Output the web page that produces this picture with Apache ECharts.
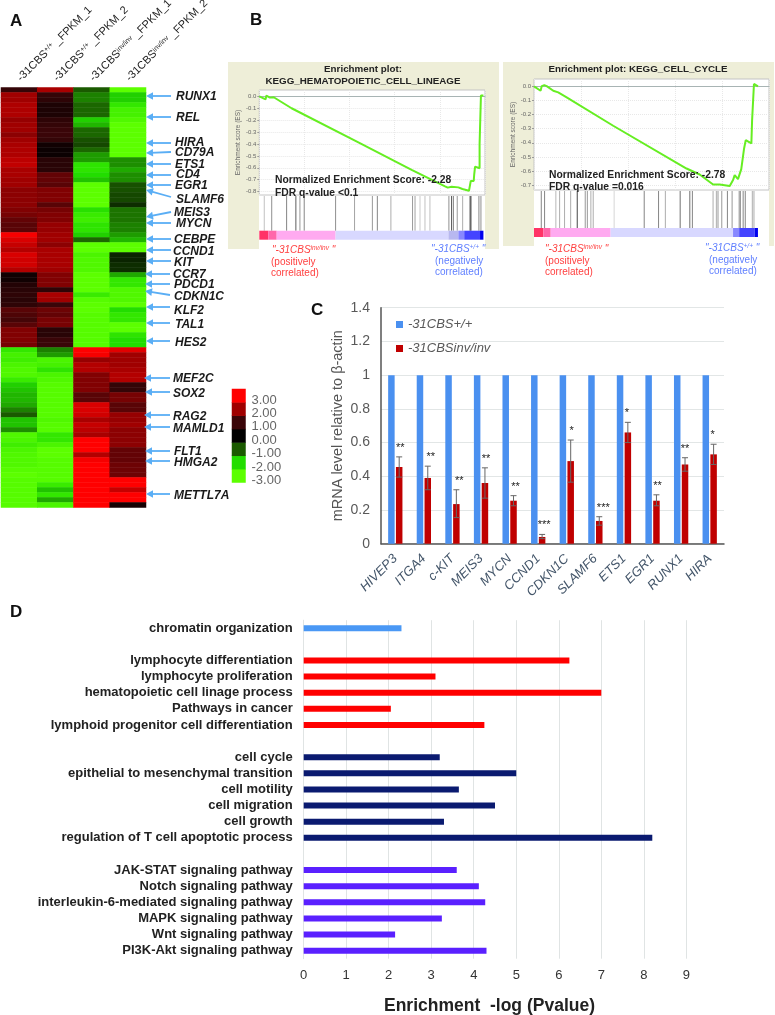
<!DOCTYPE html>
<html>
<head>
<meta charset="utf-8">
<style>html,body{margin:0;padding:0;background:#fff}#chart{width:775px;height:1015px}</style>
<script src="https://cdn.jsdelivr.net/npm/echarts@6/dist/echarts.min.js"></script>
</head>
<body>
<div id="chart"></div>
<script>
// A: expression heatmap, one list per sample, rows top to bottom
const heatSamples = ['-31CBS+/+ _FPKM_1', '-31CBS+/+ _FPKM_2', '-31CBSinv/inv _FPKM_1', '-31CBSinv/inv _FPKM_2'];
const heatCol1 = [
  0.9, 2.0, 2.0, 2.15, 2.15, 2.15, 1.9, 2.0, 2.0, 1.8,
  2.0, 2.1, 2.15, 2.15, 2.3, 2.35, 2.1, 2.1, 2.0, 2.0,
  1.8, 1.8, 1.8, 1.8, 1.7, 1.6, 1.4, 1.3, 1.3, 2.9,
  2.6, 2.4, 2.2, 2.6, 2.5, 2.5, 2.2, 0.3, 0.3, 0.6,
  0.7, 0.8, 0.7, 0.8, 1.3, 1.2, 1.1, 1.3, 1.7, 1.7,
  1.7, 1.6,
  -2.3, -2.6, -2.5, -2.7, -2.8, -2.8, -2.4, -1.9, -1.8, -1.7,
  -1.7, -1.6, -1.3, -1.0, -1.8, -1.8, -1.4, -2.8, -2.7, -2.5,
  -2.7, -2.8, -2.8, -2.8, -2.9, -3.0, -2.9, -2.9, -2.9, -2.9,
  -2.9, -2.9];
const heatCol2 = [
  2.1, 0.9, 0.8, 0.5, 0.5, 0.5, 0.8, 0.9, 1.0, 1.0,
  0.9, 0.3, 0.2, 0.2, 0.7, 0.7, 0.7, 1.4, 1.4, 1.3,
  1.7, 1.7, 1.7, 1.3, 1.6, 1.7, 1.7, 1.9, 1.9, 2.0,
  2.0, 1.8, 2.1, 2.1, 2.1, 2.1, 2.0, 1.7, 1.7, 1.7,
  0.8, 2.1, 2.0, 1.0, 1.5, 1.4, 1.6, 1.6, 0.7, 0.7,
  1.0, 1.0,
  -1.3, -1.5, -2.7, -2.6, -2.2, -2.7, -2.8, -2.9, -2.9, -2.9,
  -2.9, -2.9, -2.9, -2.9, -2.8, -2.9, -2.9, -2.3, -2.3, -2.7,
  -3.0, -3.0, -2.9, -2.9, -2.9, -2.9, -2.9, -2.4, -1.8, -2.3,
  -1.6, -2.7];
const heatCol3 = [
  -1.0, -1.3, -1.3, -1.1, -1.1, -1.1, -1.9, -1.7, -1.1, -1.1,
  -0.9, -0.8, -1.1, -1.5, -1.5, -2.2, -2.2, -2.0, -1.8, -3.0,
  -3.0, -3.0, -3.0, -3.0, -2.1, -2.4, -2.5, -2.2, -2.2, -1.9,
  -1.1, -3.0, -3.0, -2.7, -2.8, -2.8, -2.8, -3.0, -3.0, -3.0,
  -3.0, -2.4, -2.9, -3.0, -3.0, -2.9, -2.9, -2.9, -2.9, -2.9,
  -2.9, -2.9,
  3.0, 2.9, 1.9, 2.2, 2.2, 1.7, 1.7, 1.7, 1.7, 1.3,
  1.3, 2.6, 2.6, 2.5, 2.1, 2.4, 2.3, 2.1, 3.0, 3.0,
  3.0, 2.2, 2.9, 3.0, 3.0, 3.0, 3.0, 3.0, 3.0, 3.0,
  3.0, 3.0];
const heatCol4 = [
  -3.0, -1.9, -1.9, -2.3, -2.6, -2.6, -2.8, -3.0, -3.0, -3.0,
  -3.0, -3.0, -3.0, -3.0, -1.4, -1.4, -1.6, -1.4, -1.4, -0.9,
  -0.9, -0.8, -0.8, -0.5, -1.2, -1.2, -1.2, -1.3, -1.3, -1.5,
  -1.7, -3.0, -3.0, -0.4, -0.4, -0.5, -0.5, -1.6, -2.3, -2.3,
  -2.8, -2.8, -2.8, -3.0, -2.0, -2.3, -2.3, -3.0, -3.0, -2.2,
  -2.0, -2.0,
  2.7, 2.0, 2.0, 2.0, 2.1, 2.2, 2.2, 0.9, 0.9, 1.6,
  1.6, 1.3, 1.3, 1.9, 1.9, 2.0, 1.8, 1.8, 1.8, 1.8,
  1.4, 1.4, 1.4, 1.5, 1.5, 1.5, 3.0, 3.0, 2.4, 3.0,
  3.0, 0.4];
const heatScale = ['-3.00', '-2.00', '-1.00', '0.00', '1.00', '2.00', '3.00'];
const geneNames = ['RUNX1', 'REL', 'HIRA', 'CD79A', 'ETS1', 'CD4', 'EGR1', 'SLAMF6', 'MEIS3', 'MYCN', 'CEBPE', 'CCND1', 'KIT',
  'CCR7', 'PDCD1', 'CDKN1C', 'KLF2', 'TAL1', 'HES2', 'MEF2C', 'SOX2', 'RAG2', 'MAMLD1', 'FLT1', 'HMGA2', 'METTL7A'];

// B: GSEA running score, x = rank position in percent
const hemaRank = [0, 2.8, 3.1, 4.7, 5.5, 6.4, 14.3, 43.9, 67.5, 82.3, 83.5, 85.2, 88.2, 90, 90.8, 92.9, 93.7, 95, 95.2, 95.6, 97.6, 97.6, 98.2, 98.2, 99.3];
const hemaScore = [0, -0.025, 0.006, -0.011, -0.008, -0.008, -0.1, -0.386, -0.618, -0.755, -0.766, -0.758, -0.764, -0.778, -0.766, -0.792, -0.71, -0.71, -0.66, -0.59, -0.604, -0.403, -0.403, 0.006, 0.006];
const hemaHits = [2.2, 5.5, 12.1, 16.2, 18, 19.9, 33.8, 42.2, 50.1, 52.3, 58.3, 67.9, 69, 71.2, 73.4, 75.6, 84, 85.2, 86, 87.7, 90.1, 93.4, 93.8, 97.3, 98.2];
const hemaHitShade = [.3, .55, .6, .8, .5, .6, .55, .45, .5, .6, .4, .5, .45, .25, .3, .3, .55, .85, .6, .5, .4, .95, .8, .6, .55];
const hemaRankBar = [4, 3.7, 26.1, 50, 4.4, 2.6, 7, 1.5];
const cycleRank = [0, 2.8, 3.3, 4.4, 5.4, 8.2, 10.3, 13.9, 33.7, 64.9, 70.5, 76.2, 79, 83.3, 84.7, 85.4, 86.8, 88.2, 89, 89.4, 90.1, 92.5, 92.8, 93.6, 93.6, 95.3];
const cycleScore = [0, -0.031, 0.002, 0.009, 0.002, -0.031, -0.043, -0.078, -0.279, -0.582, -0.624, -0.695, -0.695, -0.705, -0.664, -0.629, -0.657, -0.586, -0.582, -0.44, -0.381, -0.404, -0.244, -0.244, 0.017, 0];
const cycleHits = [3.1, 4.5, 9.3, 10.9, 13, 15.6, 18.4, 21.8, 22.7, 24.2, 25.2, 34.1, 46.9, 53, 55.9, 62.2, 66.3, 67.4, 76.2, 77.6, 78.3, 79.9, 82.3, 84.3, 87.3, 87.8, 89, 89.9, 92.9, 93.6];
const cycleHitShade = [.6, .6, .35, .4, .4, .4, .9, .5, .5, .4, .4, .2, .6, .6, .4, .7, .7, .6, .4, .4, .5, .5, .6, .5, .5, .6, .6, .6, .4, .4];
const cycleRankBar = [4, 3.1, 25.5, 52.1, 2.6, 6.6, 1.4];

// C: qPCR
const qpcrGenes = ['HIVEP3', 'ITGA4', 'c-KIT', 'MEIS3', 'MYCN', 'CCND1', 'CDKN1C', 'SLAMF6', 'ETS1', 'EGR1', 'RUNX1', 'HIRA'];
const qpcrControl = [1, 1, 1, 1, 1, 1, 1, 1, 1, 1, 1, 1];
const qpcrInverted = [0.455, 0.39, 0.235, 0.36, 0.255, 0.04, 0.49, 0.135, 0.66, 0.255, 0.47, 0.53];
const qpcrErrLow = [0.395, 0.32, 0.155, 0.27, 0.225, 0.03, 0.365, 0.11, 0.6, 0.225, 0.43, 0.47];
const qpcrErrHigh = [0.515, 0.46, 0.32, 0.45, 0.285, 0.055, 0.615, 0.16, 0.72, 0.29, 0.51, 0.59];
const qpcrStars = ['**', '**', '**', '**', '**', '***', '*', '***', '*', '**', '**', '*'];

// D: enrichment, blank rows separate the groups
const goTerms = ['chromatin organization', '',
  'lymphocyte differentiation', 'lymphocyte proliferation', 'hematopoietic cell linage process', 'Pathways in cancer', 'lymphoid progenitor cell differentiation', '',
  'cell cycle', 'epithelial to mesenchymal transition', 'cell motility', 'cell migration', 'cell growth', 'regulation of T cell apoptotic process', '',
  'JAK-STAT signaling pathway', 'Notch signaling pathway', 'interleukin-6-mediated signaling pathway', 'MAPK signaling pathway', 'Wnt signaling pathway', 'PI3K-Akt signaling pathway'];
const goValues = [2.3, null, 6.25, 3.1, 7.0, 2.05, 4.25, null, 3.2, 5.0, 3.65, 4.5, 3.3, 8.2, null, 3.6, 4.12, 4.27, 3.25, 2.15, 4.3];
const goGroup = [0, 0, 1, 1, 1, 1, 1, 0, 2, 2, 2, 2, 2, 2, 0, 3, 3, 3, 3, 3, 3];

// colours and layout
const FONT = 'Liberation Sans';
const heatColors = ['#5cff00', '#22dd00', '#1a5a00', '#000000', '#3a0508', '#a00000', '#ff0000'];
const goColors = ['#4a98f5', '#ff0000', '#0a1a70', '#5a20ff'];
const rankColors = ['#ff3366', '#ff66aa', '#ffaaf0', '#d8d8ff', '#b8b8f0', '#8888ff', '#4444ff', '#0000ee'];
const rankColorsCycle = ['#ff3366', '#ff66aa', '#ffaaf0', '#d8d8ff', '#8888ff', '#4444ff', '#0000ee'];
const starShift = [1, 3, 3, 1, 2, 2, 1, 4, -1, 1, 0, -1];

// [labelX, labelY, tipX, tipY, tailX, tailY] per gene
const geneCallouts = [
  [176, 97, 146, 96, 171, 96], [176, 118, 146, 117, 171, 117], [175, 143, 146, 143, 171, 143], [175, 153, 146, 153, 171, 152],
  [175, 165, 146, 164, 171, 164], [176, 175, 146, 175, 171, 175], [175, 186, 146, 185, 171, 185], [176, 200, 146, 190, 171, 197],
  [174, 213, 146, 217, 171, 212], [176, 224, 146, 223, 171, 223], [174, 240, 146, 239, 171, 239], [173, 252, 146, 250, 171, 250],
  [174, 263, 146, 261, 171, 261], [173, 275, 145, 274, 170, 274], [174, 285, 145, 284, 170, 284], [174, 297, 145, 291, 170, 295],
  [174, 311, 146, 307, 170, 307], [175, 325, 146, 323, 170, 323], [175, 343, 146, 341, 170, 341], [173, 379, 144, 378, 170, 378],
  [173, 394, 145, 392, 170, 392], [173, 417, 144, 415, 170, 415], [173, 429, 144, 427, 170, 427], [174, 452, 145, 451, 170, 451],
  [174, 463, 145, 461, 170, 461], [174, 496, 146, 494, 170, 494]
];

function text(x, y, str, style) {
  return {
    type: 'text', x, y, z: 50,
    style: Object.assign({ text: str, fontFamily: FONT, fontSize: 12, fill: '#222', verticalAlign: 'middle' }, style)
  };
}

function rect(x, y, w, h, fill, z) {
  return { type: 'rect', z, shape: { x, y, width: w, height: h }, style: { fill } };
}

const graphics = [
  rect(228, 62, 271, 187, '#eeeed8', -20),
  rect(259, 195, 226, 54, '#fff', -19),
  rect(503, 62, 271, 184, '#eeeed8', -20),
  rect(534, 190, 235, 56, '#fff', -19)
];

// panel letters
[['A', 10, 21], ['B', 250, 20], ['C', 311, 310], ['D', 10, 612]].forEach(([s, x, y]) => {
  graphics.push(text(x, y, s, { fontSize: 17, fontWeight: 'bold', fill: '#111' }));
});

// gene callouts with arrows
geneNames.forEach((name, i) => {
  const [lx, ly, tx, ty, ex, ey] = geneCallouts[i];
  const a = Math.atan2(ey - ty, ex - tx);
  const head = [[tx, ty],
    [tx + 8 * Math.cos(a + 0.5), ty + 8 * Math.sin(a + 0.5)],
    [tx + 8 * Math.cos(a - 0.5), ty + 8 * Math.sin(a - 0.5)]];
  graphics.push({ type: 'line', z: 40, shape: { x1: tx + 4, y1: ty + 4 * Math.sin(a), x2: ex, y2: ey }, style: { stroke: '#5aaef5', lineWidth: 1.8 } });
  graphics.push({ type: 'polygon', z: 40, shape: { points: head }, style: { fill: '#5aaef5' } });
  graphics.push(text(lx, ly, name, { fontSize: 12, fontWeight: 'bold', fontStyle: 'italic', fill: '#1a1a1a' }));
});

// GSEA panel captions
const boldDark = { fontSize: 9.8, fontWeight: 'bold', fill: '#222', align: 'center' };
graphics.push(text(363, 69, 'Enrichment plot:', boldDark));
graphics.push(text(363, 81.5, 'KEGG_HEMATOPOIETIC_CELL_LINEAGE', boldDark));
graphics.push(text(638, 69, 'Enrichment plot: KEGG_CELL_CYCLE', boldDark));
const statStyle = { fontSize: 10.3, fontWeight: 'bold', fill: '#222' };
graphics.push(text(275, 180.5, 'Normalized Enrichment Score: -2.28', statStyle));
graphics.push(text(275, 193, 'FDR q-value <0.1', statStyle));
graphics.push(text(549, 175, 'Normalized Enrichment Score: -2.78', statStyle));
graphics.push(text(549, 187.5, 'FDR q-value =0.016', statStyle));

function phenotype(x, y, sup, tag, color, lineX) {
  const rich = {
    i: { fontFamily: FONT, fontSize: 10, fontStyle: 'italic', fill: color },
    s: { fontFamily: FONT, fontSize: 6.5, fontStyle: 'italic', fill: color, verticalAlign: 'top' }
  };
  graphics.push(text(x, y, '{i|"-31CBS}{s|' + sup + '}{i| "}', { rich }));
  graphics.push(text(lineX, y + 12, '(' + tag + 'ly', { fontSize: 10, fill: color }));
  graphics.push(text(lineX, y + 23, 'correlated)', { fontSize: 10, fill: color }));
}
phenotype(272, 250, 'inv/inv', 'positive', '#ff4040', 271);
phenotype(431, 249, '+/+', 'negative', '#5f7fff', 435);
phenotype(545, 249, 'inv/inv', 'positive', '#ff4040', 545);
phenotype(705, 248, '+/+', 'negative', '#5f7fff', 709);

const grid = [];
const xAxis = [];
const yAxis = [];
const series = [];

function hiddenAxis(gridIndex, extra) {
  return Object.assign({
    gridIndex, show: false, axisLine: { show: false }, axisTick: { show: false }, axisLabel: { show: false }, splitLine: { show: false }
  }, extra);
}

// A: heatmap
grid.push({ left: 1, top: 87.5, width: 145, height: 420, outerBoundsMode: 'none' });
xAxis.push({
  gridIndex: 0, type: 'category', position: 'top', data: heatSamples,
  axisLine: { show: false }, axisTick: { show: false },
  axisLabel: {
    interval: 0, rotate: -45, margin: 8, verticalAlign: 'middle',
    formatter: v => v.replace(/^(-31CBS)(\S+) (.*)$/, '{b|$1}{s|$2}{b| $3}'),
    rich: {
      b: { fontFamily: FONT, fontSize: 11, color: '#222' },
      s: { fontFamily: FONT, fontSize: 7, color: '#222', verticalAlign: 'top' }
    }
  }
});
yAxis.push(hiddenAxis(0, { type: 'category', inverse: true, data: heatCol1.map((v, i) => i) }));
const heatData = [];
[heatCol1, heatCol2, heatCol3, heatCol4].forEach((col, c) => {
  col.forEach((v, r) => heatData.push([c, r, v]));
});
series.push({ type: 'heatmap', xAxisIndex: 0, yAxisIndex: 0, data: heatData, progressive: 0, animation: false });

// A: colour key
grid.push({ left: 232, top: 389, width: 13.5, height: 93.5, outerBoundsMode: 'none' });
xAxis.push(hiddenAxis(1, { type: 'category', data: ['key'] }));
yAxis.push({
  gridIndex: 1, type: 'category', data: heatScale,
  axisLine: { show: false }, axisTick: { show: false },
  position: 'right', splitLine: { show: false },
  axisLabel: { interval: 0, margin: 6, fontSize: 13, color: '#666', verticalAlign: 'top', lineHeight: 9, align: 'left' }
});
series.push({
  type: 'heatmap', xAxisIndex: 1, yAxisIndex: 1, animation: false,
  data: heatScale.map(s => [0, s, parseFloat(s)])
});

// B: one GSEA panel = score line + hit ticks + rank colour bar
function gseaPanel(cfg) {
  const g = grid.length;
  grid.push({
    left: cfg.left, top: cfg.top, width: cfg.width, height: cfg.height, outerBoundsMode: 'none',
    show: true, backgroundColor: '#fff', borderColor: '#c4c4c4', borderWidth: 1
  });
  xAxis.push({
    gridIndex: g, type: 'value', min: 0, max: 100, interval: 20,
    axisLabel: { show: false }, axisTick: { show: false },
    axisLine: { show: true, onZero: true, lineStyle: { color: '#a8b4b4', width: 1 } },
    splitLine: { show: true, lineStyle: { color: '#e8e8e8', type: 'dotted' } }
  });
  yAxis.push({
    gridIndex: g, type: 'value', min: cfg.min, max: cfg.max,
    name: 'Enrichment score (ES)', nameLocation: 'middle', nameGap: 16,
    nameTextStyle: { fontSize: 6.5, color: '#666', fontFamily: FONT },
    axisLine: { show: false },
    axisTick: { show: true, customValues: cfg.ticks, length: 2, lineStyle: { color: '#999' } },
    axisLabel: { customValues: cfg.ticks, fontSize: 6, color: '#666', margin: 3, formatter: v => v.toFixed(1) },
    splitLine: { show: true, lineStyle: { color: '#e8e8e8', type: 'dotted' } }
  });
  series.push({
    type: 'line', xAxisIndex: g, yAxisIndex: g, showSymbol: false, symbol: 'none', animation: false,
    lineStyle: { color: '#66ee22', width: 2 },
    data: cfg.rank.map((r, i) => [r, cfg.score[i]])
  });

  grid.push({ left: cfg.left, top: cfg.top + cfg.height + 1, width: cfg.width, height: cfg.barTop - cfg.top - cfg.height - 1, outerBoundsMode: 'none' });
  xAxis.push(hiddenAxis(g + 1, { type: 'value', min: 0, max: 100 }));
  yAxis.push(hiddenAxis(g + 1, { type: 'value', min: 0, max: 1 }));
  series.push({
    type: 'bar', xAxisIndex: g + 1, yAxisIndex: g + 1, barWidth: 1, animation: false,
    data: cfg.hits.map((h, i) => ({ value: [h, 1], itemStyle: { color: '#333', opacity: cfg.shade[i] } }))
  });

  grid.push({ left: cfg.left, top: cfg.barTop, width: cfg.width, height: 9, outerBoundsMode: 'none' });
  xAxis.push(hiddenAxis(g + 2, { type: 'value', min: 0, max: 100 }));
  yAxis.push(hiddenAxis(g + 2, { type: 'category', data: ['rank'] }));
  cfg.bar.forEach((w, i) => {
    series.push({
      type: 'bar', xAxisIndex: g + 2, yAxisIndex: g + 2, stack: 'rank' + g, barWidth: '100%', animation: false,
      itemStyle: { color: cfg.barColors[i] }, data: [w]
    });
  });
}
gseaPanel({
  left: 259.3, top: 90, width: 225.7, height: 105, barTop: 230.7, min: -0.828, max: 0.053,
  ticks: [-0.8, -0.7, -0.6, -0.5, -0.4, -0.3, -0.2, -0.1, 0],
  rank: hemaRank, score: hemaScore, hits: hemaHits, shade: hemaHitShade, bar: hemaRankBar, barColors: rankColors
});
gseaPanel({
  left: 534, top: 79, width: 235, height: 111, barTop: 228, min: -0.734, max: 0.052,
  ticks: [-0.7, -0.6, -0.5, -0.4, -0.3, -0.2, -0.1, 0],
  rank: cycleRank, score: cycleScore, hits: cycleHits, shade: cycleHitShade, bar: cycleRankBar, barColors: rankColorsCycle
});

// C: qPCR bars
const cGrid = grid.length;
grid.push({ left: 381, top: 307.7, width: 343, height: 236, outerBoundsMode: 'none' });
xAxis.push({
  gridIndex: cGrid, type: 'category', data: qpcrGenes,
  axisTick: { show: false },
  axisLine: { lineStyle: { color: '#555', width: 1.5 } },
  axisLabel: { interval: 0, rotate: 45, margin: 13, fontSize: 13, fontStyle: 'italic', color: '#44566a' }
});
yAxis.push({
  gridIndex: cGrid, type: 'value', min: 0, max: 1.4, interval: 0.2,
  name: 'mRNA level relative to β-actin', nameLocation: 'middle', nameGap: 36,
  nameTextStyle: { fontSize: 14.5, color: '#555', fontFamily: FONT },
  axisLine: { show: true, lineStyle: { color: '#555', width: 1.5 } },
  axisTick: { show: false },
  axisLabel: { fontSize: 14, color: '#595959', margin: 11 },
  splitLine: { lineStyle: { color: '#e2e6e6', width: 1 } }
});
series.push({
  name: '-31CBS+/+', type: 'bar', xAxisIndex: cGrid, yAxisIndex: cGrid, animation: false,
  barWidth: 6.5, barGap: '20%', itemStyle: { color: '#4a90f0' }, data: qpcrControl
});
series.push({
  name: '-31CBSinv/inv', type: 'bar', xAxisIndex: cGrid, yAxisIndex: cGrid, animation: false,
  barWidth: 6.5, barGap: '20%', itemStyle: { color: '#c00000' }, data: qpcrInverted
});
series.push({
  type: 'custom', xAxisIndex: cGrid, yAxisIndex: cGrid, animation: false, z: 5,
  data: qpcrGenes.map((g, i) => [i, qpcrErrLow[i], qpcrErrHigh[i]]),
  encode: { x: 0, y: [1, 2] },
  renderItem(params, api) {
    const i = api.value(0);
    const lo = api.coord([i, api.value(1)]);
    const hi = api.coord([i, api.value(2)]);
    const x = lo[0] + 3.9;
    const stroke = { stroke: '#666', lineWidth: 1 };
    return {
      type: 'group',
      children: [
        { type: 'line', shape: { x1: x, y1: lo[1], x2: x, y2: hi[1] }, style: stroke },
        { type: 'line', shape: { x1: x - 3, y1: lo[1], x2: x + 3, y2: lo[1] }, style: stroke },
        { type: 'line', shape: { x1: x - 3, y1: hi[1], x2: x + 3, y2: hi[1] }, style: stroke },
        {
          type: 'text', x: x + starShift[i], y: hi[1] - 9,
          style: { text: qpcrStars[i], fontFamily: FONT, fontSize: 11, fill: '#222', align: 'center', verticalAlign: 'middle' }
        }
      ]
    };
  }
});

// D: enrichment bars
const dGrid = grid.length;
grid.push({ left: 303.7, top: 620.2, width: 382.6, height: 338.5, outerBoundsMode: 'none' });
xAxis.push({
  gridIndex: dGrid, type: 'value', min: 0, max: 9, interval: 1,
  name: 'Enrichment  -log (Pvalue)', nameLocation: 'middle', nameGap: 38,
  nameTextStyle: { fontSize: 17.5, fontWeight: 'bold', color: '#222', fontFamily: FONT, padding: [0, 11, 0, 0] },
  axisLine: { show: false }, axisTick: { show: false },
  axisLabel: { fontSize: 13, color: '#333', margin: 10 },
  splitLine: { show: true, lineStyle: { color: '#e0e4e4', width: 1 } }
});
yAxis.push({
  gridIndex: dGrid, type: 'category', inverse: true, data: goTerms,
  axisLine: { show: true, lineStyle: { color: '#e0e4e4' } }, axisTick: { show: false },
  axisLabel: { interval: 0, margin: 11, fontSize: 13, fontWeight: 'bold', color: '#222' }
});
series.push({
  type: 'bar', xAxisIndex: dGrid, yAxisIndex: dGrid, barWidth: 6, animation: false,
  data: goValues.map((v, i) => ({ value: v, itemStyle: { color: goColors[goGroup[i]] } }))
});

const chart = echarts.init(document.getElementById('chart'), null, { renderer: 'canvas' });
chart.setOption({
  backgroundColor: '#fff',
  animation: false,
  textStyle: { fontFamily: FONT },
  grid, xAxis, yAxis, series,
  visualMap: {
    show: false, type: 'continuous', min: -3, max: 3, seriesIndex: [0, 1],
    inRange: { color: heatColors }
  },
  legend: {
    data: ['-31CBS+/+', '-31CBSinv/inv'], orient: 'vertical', left: 391, top: 313, itemGap: 11,
    icon: 'rect', itemWidth: 7, itemHeight: 7,
    textStyle: { fontSize: 13, fontStyle: 'italic', color: '#595959', fontFamily: FONT }
  },
  graphic: { elements: graphics }
});
</script>
</body>
</html>
